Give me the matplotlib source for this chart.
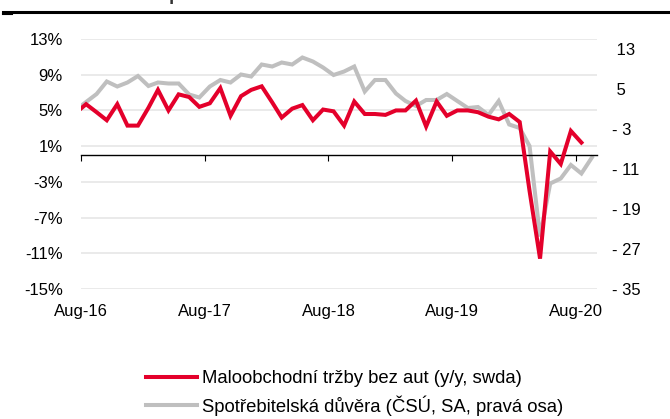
import numpy as np
import pandas as pd
import matplotlib
matplotlib.use('Agg')
import matplotlib.pyplot as plt
from matplotlib.lines import Line2D
from matplotlib.transforms import blended_transform_factory

plt.rcParams['font.family'] = ['Liberation Sans', 'DejaVu Sans']

# monthly values, Jul-16 .. Aug-20 (retail) and Jul-16 .. Sep-20 (confidence)
retail = [4.7, 5.7, 4.8, 3.9, 5.7, 3.3, 3.3, 5.3, 7.3, 5.0, 6.8, 6.5, 5.4, 5.8,
          7.5, 4.4, 6.6, 7.3, 7.7, 5.9, 4.2, 5.2, 5.6, 3.9, 5.1, 4.9, 3.3, 6.0,
          4.6, 4.6, 4.5, 5.0, 5.0, 6.1, 3.2, 6.0, 4.4, 5.0, 5.0, 4.8, 4.3, 4.0,
          4.6, 3.7, -4.0, -11.6, 0.4, -1.0, 2.7, 1.4]
confidence = [0.8, 2.4, 4.0, 6.5, 5.5, 6.3, 7.6, 5.6, 6.3, 6.1, 6.1, 3.9, 3.3,
              5.5, 6.8, 6.3, 7.9, 7.5, 9.9, 9.5, 10.3, 9.9, 11.3, 10.5, 9.3,
              7.8, 8.5, 9.5, 4.5, 6.8, 6.8, 4.1, 2.6, 1.6, 2.8, 2.8, 4.0, 2.6,
              1.2, 1.4, -0.2, 2.6, -2.1, -2.8, -6.4, -24.5, -13.9, -12.9,
              -10.2, -11.9, -8.7]
start_month = '2016-07'
x_ticks = ['2016-08-01', '2017-08-01', '2018-08-01', '2019-08-01', '2020-08-01']
x_labels = ['Aug-16', 'Aug-17', 'Aug-18', 'Aug-19', 'Aug-20']
left_ticks = [-15, -11, -7, -3, 1, 5, 9, 13]
right_ticks = [-35, -27, -19, -11, -3, 5, 13]
names = ['Maloobchodní tržby bez aut (y/y, swda)',
         'Spotřebitelská důvěra (ČSÚ, SA, pravá osa)']
title = 'Maloobchod a spotřebitelská důvěra'

RED = '#E4002B'
GREY = '#BFBFBF'
GRID = '#E6E6E6'
FS = 12
LEG_FS = 13.3


def mid_months(n):
    m = pd.period_range(start_month, periods=n, freq='M')
    return m.to_timestamp() + pd.Timedelta(days=15)


W, H = 670, 419
fig = plt.figure(figsize=(W / 100, H / 100), dpi=100)
ax = fig.add_axes([81 / W, 130 / H, 516 / W, 250 / H])
ax2 = ax.twinx()
ax.set_zorder(ax2.get_zorder() + 1)
ax.patch.set_visible(False)

# gridlines live on the lower axes so the lines sit on top of them
gtr = blended_transform_factory(ax.transAxes, ax.transData)
for t in left_ticks:
    ax2.plot([0, 1], [t, t], transform=gtr, color=GRID, lw=1.2, zorder=0)

ax2.plot(mid_months(len(confidence)), confidence, color=GREY, lw=2.9,
         solid_joinstyle='miter', zorder=2)
ax.plot(mid_months(len(retail)), retail, color=RED, lw=2.9,
        solid_joinstyle='miter', zorder=3)

ax.set_xlim(pd.Timestamp('2016-08-01'), pd.Timestamp('2020-10-01'))
ax.set_ylim(-15, 13)
ax2.set_ylim(-35, 15)

ax.set_yticks(left_ticks, [f'{t}%' for t in left_ticks])
ax2.set_yticks(right_ticks,
               [f'- {-t}' if t < 0 else f' {t}' for t in right_ticks])
ax.tick_params(axis='y', length=0, pad=13, labelsize=FS)
ax2.tick_params(axis='y', length=0, pad=11, labelsize=FS)
for lab in ax2.get_yticklabels():
    lab.set_horizontalalignment('left')

for a in (ax, ax2):
    for s in ('top', 'left', 'right'):
        a.spines[s].set_visible(False)
ax2.spines['bottom'].set_visible(False)
ax.spines['bottom'].set_position(('data', 0))
ax.spines['bottom'].set_linewidth(1.0)

ticks = pd.to_datetime(x_ticks)
ax.set_xticks(ticks, [''] * len(ticks))
ax.tick_params(axis='x', direction='out', length=4.5, width=0.8)

sec = ax.secondary_xaxis('bottom')
sec.set_xticks(ticks, x_labels)
sec.tick_params(length=0, pad=11, labelsize=FS)
sec.spines['bottom'].set_visible(False)

handles = [Line2D([], [], color=RED, lw=2.9), Line2D([], [], color=GREY, lw=2.9)]
fig.legend(handles, names, loc='upper left', frameon=False, fontsize=LEG_FS,
           bbox_to_anchor=(146 / W, 1 - 370 / H), handlelength=2.75,
           handletextpad=0.27, labelspacing=0.45, borderpad=0, borderaxespad=0)

# header rule and title, clipped by the top edge as in the source
fig.text(33 / W, 1 + 0.5 / H, title, fontsize=13, fontweight='bold',
         color='#333333', va='baseline')
fig.add_artist(Line2D([3 / W, 1], [1 - 12.5 / H] * 2, color='black', lw=2.2))
fig.add_artist(Line2D([3 / W, 12 / W], [1 - 14.5 / H] * 2, color='black', lw=1.5))

fig.savefig('out.png', dpi=100)
